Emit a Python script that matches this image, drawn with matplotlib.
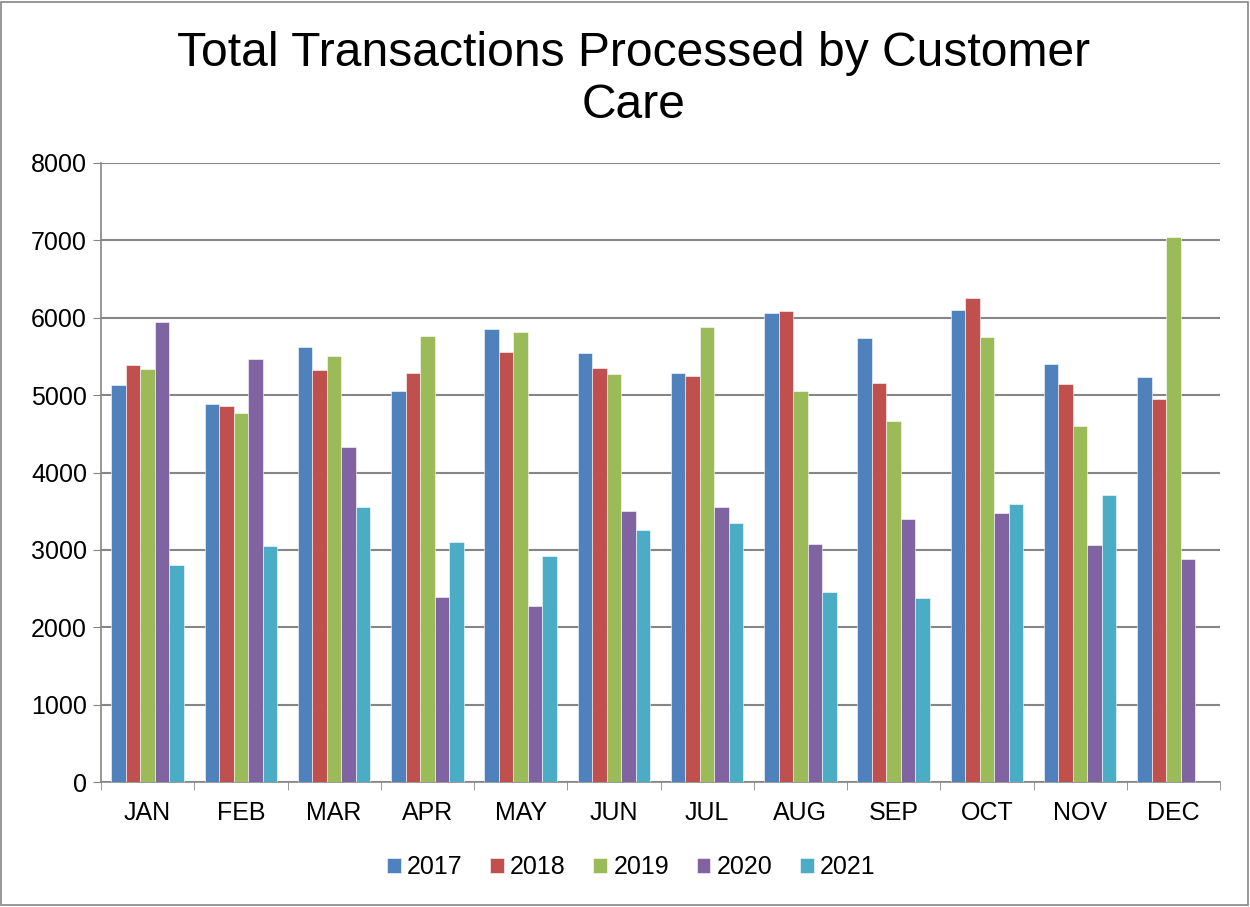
import numpy as np
import matplotlib
matplotlib.use("Agg")
from matplotlib import pyplot as plt
from matplotlib.patches import Rectangle

plt.rcParams['font.family'] = ['Liberation Sans', 'DejaVu Sans']

months = ['JAN', 'FEB', 'MAR', 'APR', 'MAY', 'JUN', 'JUL', 'AUG', 'SEP', 'OCT', 'NOV', 'DEC']
years = ['2017', '2018', '2019', '2020', '2021']
y2017 = [5130, 4890, 5620, 5050, 5850, 5540, 5280, 6060, 5740, 6100, 5400, 5230]
y2018 = [5390, 4860, 5320, 5290, 5560, 5350, 5250, 6090, 5160, 6260, 5150, 4950]
y2019 = [5340, 4770, 5510, 5760, 5810, 5270, 5880, 5050, 4670, 5750, 4600, 7040]
y2020 = [5940, 5470, 4330, 2390, 2280, 3500, 3560, 3080, 3400, 3480, 3060, 2880]
y2021 = [2800, 3050, 3550, 3100, 2920, 3260, 3350, 2450, 2380, 3590, 3710, 0]
colors = ['#4F81BD', '#C0504D', '#9BBB59', '#8064A2', '#4BACC6']

series = [y2017, y2018, y2019, y2020, y2021]

fig = plt.figure(figsize=(12.5, 9.07), dpi=100)
ax = fig.add_axes([0.0808, 0.1378, 0.8952, 0.6825])

x = np.arange(len(months))
w = 0.155
for i, (vals, c, lab) in enumerate(zip(series, colors, years)):
    ax.bar(x + (i - 2) * w, vals, w, color=c, label=lab, edgecolor='white', linewidth=0.4, zorder=3)

ax.set_xlim(-0.5, 11.5)
ax.set_ylim(0, 8000)
ax.set_yticks(range(0, 8001, 1000))
ax.tick_params(axis='y', labelsize=18, direction='out', length=6, color='#868686', pad=4)
ax.set_xticks(x)
ax.set_xticklabels(months)
ax.tick_params(axis='x', which='major', length=0, labelsize=18, pad=14)
ax.set_xticks(np.arange(-0.5, 12, 1), minor=True)
ax.tick_params(axis='x', which='minor', length=6, color='#868686', direction='out')
ax.grid(axis='y', color='#868686', linewidth=1.5, zorder=0)
ax.set_axisbelow(True)
for s in ['top', 'right']:
    ax.spines[s].set_visible(False)
ax.spines['left'].set_color('#868686')
ax.spines['bottom'].set_color('#868686')
ax.spines['left'].set_linewidth(1.2)
ax.spines['bottom'].set_linewidth(1.2)

fig.text(0.507, 0.912, 'Total Transactions Processed by Customer\nCare', ha='center', va='center',
         fontsize=34.6, linespacing=1.2)

fig.legend(loc='center', bbox_to_anchor=(0.505, 0.044), ncol=5, frameon=False, fontsize=18,
           handlelength=0.55, handleheight=0.55, handletextpad=0.25, columnspacing=1.1)

fig.patches.append(Rectangle((0.001, 0.002), 0.997, 0.996, transform=fig.transFigure,
                             fill=False, edgecolor='#868686', linewidth=1.2))

fig.savefig('out.png', dpi=100)
